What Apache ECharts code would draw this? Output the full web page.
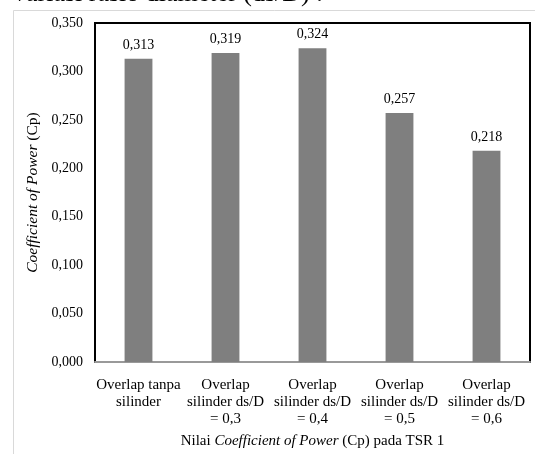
<!DOCTYPE html>
<html>
<head>
<meta charset="utf-8">
<script src="https://cdn.jsdelivr.net/npm/echarts@6/dist/echarts.min.js"></script>
<style>
html,body{margin:0;padding:0;background:#fff;}
#chart{width:535px;height:454px;}
</style>
</head>
<body>
<div id="chart"></div>
<script>
const categories = [
  "Overlap tanpa\nsilinder",
  "Overlap\nsilinder ds/D\n= 0,3",
  "Overlap\nsilinder ds/D\n= 0,4",
  "Overlap\nsilinder ds/D\n= 0,5",
  "Overlap\nsilinder ds/D\n= 0,6"
];
const cpValues = [0.313, 0.319, 0.324, 0.257, 0.218];
const yMin = 0, yMax = 0.35, yStep = 0.05;

const font = "'Liberation Serif', 'Times New Roman', serif";
const fmt = v => v.toFixed(3).replace('.', ',');

const chart = echarts.init(document.getElementById('chart'));
chart.setOption({
  animation: false,
  backgroundColor: '#fff',
  graphic: [
    { type: 'rect', left: 11, top: 8, shape: { width: 600, height: 500 },
      style: { fill: 'none', stroke: '#d9d9d9', lineWidth: 1 }, silent: true, z: -1 },
    { type: 'text', left: 13, top: -19,
      style: { text: 'variasi rasio diameter (ds/D) .', font: "26px 'Liberation Serif', serif", fill: '#000' } }
  ],
  grid: { left: 95, right: 5, top: 23, bottom: 92, show: true, borderColor: '#000', borderWidth: 2, containLabel: false },
  xAxis: {
    type: 'category',
    data: categories,
    axisLine: { show: true, lineStyle: { color: '#999', width: 2 } },
    axisTick: { show: false },
    axisLabel: { interval: 0, color: '#000', fontFamily: font, fontSize: 15, lineHeight: 17, margin: 15 },
    name: '{n|Nilai }{i|Coefficient of Power} {n|(Cp) pada TSR 1}',
    nameLocation: 'middle',
    nameGap: 72,
    nameTextStyle: {
      fontFamily: font, fontSize: 15, color: '#000',
      rich: {
        i: { fontFamily: font, fontSize: 15, fontStyle: 'italic', color: '#000' },
        n: { fontFamily: font, fontSize: 15, color: '#000' }
      }
    }
  },
  yAxis: {
    type: 'value',
    min: yMin, max: yMax, interval: yStep,
    splitLine: { show: false },
    axisLine: { show: false },
    axisTick: { show: false },
    axisLabel: { color: '#000', fontFamily: font, fontSize: 14, margin: 12, formatter: v => fmt(v) },
    name: '{i|Coefficient of Power} {n|(Cp)}',
    nameLocation: 'middle',
    nameGap: 52,
    nameRotate: 90,
    nameTextStyle: {
      fontFamily: font, fontSize: 15.5, color: '#000',
      rich: {
        i: { fontFamily: font, fontSize: 15.5, fontStyle: 'italic', color: '#000' },
        n: { fontFamily: font, fontSize: 15.5, color: '#000' }
      }
    }
  },
  series: [{
    type: 'bar',
    data: cpValues,
    barWidth: '32%',
    itemStyle: { color: '#7f7f7f' },
    label: { show: true, position: 'top', distance: 7, color: '#000', fontFamily: font, fontSize: 14, formatter: p => fmt(p.value) }
  }]
});
</script>
</body>
</html>
